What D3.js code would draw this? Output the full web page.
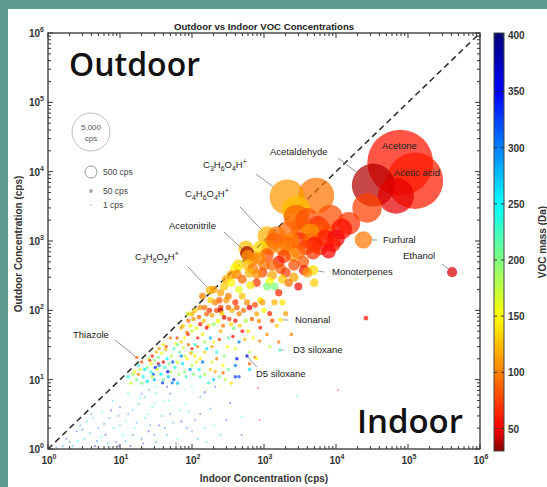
<!DOCTYPE html>
<html>
<head>
<meta charset="utf-8">
<script src="https://cdn.jsdelivr.net/npm/d3@7/dist/d3.min.js"></script>
<style>
  body { margin: 0; background: #5e9c92; }
  svg { display: block; }
  text { font-family: "Liberation Sans", Arial, sans-serif; }
</style>
</head>
<body>
<div id="chart"></div>
<script>
// ---- data: concentrations in cps, mass in Da ----
var decadeTicks = [1, 10, 100, 1000, 10000, 100000, 1000000];
var massTicks = [50, 100, 150, 200, 250, 300, 350, 400];
var legendSizes = [5000, 500, 50, 1];

// labelled compounds: name, indoor, outdoor, mass, bubble size (cps)
var compounds = [
  ["Acetone", 78000, 13500, 58, 15000],
  ["Acetic acid", 125000, 7400, 60, 11000],
  ["Acetaldehyde", 33000, 6400, 38, 6400],
  ["Furfural", 24000, 1040, 97, 1040],
  ["Ethanol", 410000, 355, 44, 355],
  ["C3H6O4H+", 2100, 4300, 110, 4300],
  ["C4H6O4H+", 1100, 1200, 119, 1200],
  ["Acetonitrile", 580, 670, 36, 670],
  ["C3H6O5H+", 178, 196, 123, 260],
  ["Monoterpenes", 4800, 380, 137, 380],
  ["Nonanal", 1700, 73, 142, 73],
  ["D3 siloxane", 1660, 27, 223, 27],
  ["D5 siloxane", 580, 22, 371, 22],
  ["Thiazole", 17, 21, 86, 21]
];

// unlabelled VOCs: [indoor, outdoor, mass]
var bigPoints = [
  [68000,4500,46],[27000,3000,75],[5300,4500,95],
  [280,220,130],[350,320,110],[400,400,145],[500,280,90],[630,350,120],[710,560,100],
  [790,250,70],[890,790,135],[1000,450,95],[1100,630,80],[1300,320,115],[1400,1000,85],
  [1600,500,60],[1800,790,100],[2000,350,75],[2200,1400,90],[2500,630,105],[3200,1000,65],
  [3500,500,85],[4000,2000,80],[5000,890,55],[5600,1600,70],[7100,1100,60],[7900,710,50],
  [2800,2200,88],[560,790,125],[450,200,160],[320,160,100],[250,110,75],[1100,220,200],
  [1600,180,65],[2200,250,95],[890,140,140],[4000,350,110],[5000,250,130],[10000,1100,48],
  [8300,2200,80],[2800,2800,125],[3000,220,55],[4400,1300,110],[2100,880,90],[4800,680,70],
  [440,450,135],
  [600,600,110],[700,400,95],[850,560,105],[950,350,80],[1200,800,100],[1300,450,90],
  [1500,1200,95],[1700,400,85],[1900,600,75],[2400,1000,100],[2600,450,80],[3000,700,90],
  [3300,1500,85],[3800,800,75],[4500,1000,90],[6000,800,65],[6500,1400,80],[9000,900,60],
  [12000,1500,55],[15000,1800,70],[3600,380,60],[2600,300,115],[1800,280,130],[1200,260,150],
  [800,330,105],[650,230,140],[600,450,125],[350,250,145],[300,280,120],[420,330,100]
];
var midPoints = [
  [71,56,110],[79,40,150],[89,71,95],[100,50,170],[100,89,120],[110,32,230],[130,63,60],
  [130,110,105],[140,45,140],[160,89,85],[160,28,260],[180,140,130],[200,63,190],[200,35,155],
  [220,100,75],[250,50,120],[250,180,115],[280,79,45],[320,40,210],[320,110,90],[350,63,135],
  [400,130,70],[400,28,165],[450,89,100],[500,50,55],[500,160,125],[560,71,180],[630,110,48],
  [710,40,145],[790,89,115],[890,56,62],[1000,100,150],[1100,45,105],[1300,71,78],[1400,130,120],
  [1600,35,95],[220,25,240],[280,22,200],[140,160,100],[200,200,110],[110,100,130],[89,89,160],
  [450,35,300],[630,25,180],[790,20,150],[180,40,280],[100,25,190],[63,32,210],[79,22,175],
  [130,20,145],[250,100,40],[160,56,50],[400,71,58],[1400,220,200],[1800,130,140],
  [75,60,130],[85,48,100],[95,60,145],[105,75,110],[115,55,160],[125,80,90],[145,70,125],
  [150,110,95],[170,60,140],[175,100,70],[190,85,115],[210,130,100],[230,70,150],[240,140,85],
  [260,90,130],[270,60,95],[300,140,110],[330,75,75],[360,100,120],[380,55,200],[420,110,85],
  [460,60,130],[520,100,95],[580,130,105],[600,50,140],[680,75,90],[750,120,80],[850,70,100],
  [950,130,110],[1200,90,65],[1500,60,130],[2000,90,110],[120,40,60],[150,35,190],[190,30,110],
  [240,38,70],[310,30,150],[370,42,50],[540,38,120],[1200,30,180],[2400,45,100]
];
var lowPoints = [
  [16,13,150],[18,16,230],[20,8.9,200],[22,14,260],[25,20,180],[25,7.1,300],[28,11,170],
  [32,25,120],[32,7.9,240],[35,16,290],[40,10,210],[40,32,140],[45,20,250],[50,6.3,320],
  [50,13,190],[56,28,220],[63,18,160],[63,8.9,270],[71,22,300],[79,13,200],[89,32,90],
  [100,16,180],[100,7.9,250],[110,22,140],[130,11,220],[140,18,310],[160,7.1,190],[180,14,130],
  [200,10,270],[220,20,100],[250,7.9,160],[320,14,210],[350,8.9,140],[20,18,80],[28,22,60],
  [35,28,110],[45,7.9,350],[56,10,330],[22,5.6,280],[14,8.9,170],[13,11,240],[79,7.1,230],
  [130,5.6,290],[100,28,60],[71,35,130],[50,40,100],[40,18,45],[400,16,300],
  [15,12,190],[17,10,210],[19,14,170],[21,11,240],[24,15,200],[24,9.5,260],[27,17,150],
  [27,13,230],[30,19,190],[30,10,280],[33,14,170],[34,21,210],[37,12,250],[38,24,160],
  [42,15,230],[43,27,120],[47,11,270],[48,17,200],[52,22,180],[53,9,300],[58,15,240],
  [60,33,150],[66,12,190],[67,25,210],[74,17,260],[76,29,170],[83,11,220],[85,20,150],
  [94,14,290],[96,24,120],[105,12,200],[115,18,160],[120,30,100],[125,14,240],[150,12,180],
  [150,25,130],[170,9,230],[190,18,170],[210,13,120],[240,11,200],[270,16,150],[290,10,180],
  [18,12,100],[26,19,70],[34,17,50],[44,30,80],[62,40,75],[88,45,65],[31,15,340],[39,9,330],
  [46,13,360],[54,18,320],[29,12,310]
];
var faintPoints = [
  [2.0,1.26,300],[2.5,1.8,320],[3.2,1.4,280],[3.5,2.5,260],[4.5,1.1,340],[5.0,2.0,300],
  [5.6,3.5,250],[6.3,1.6,360],[7.1,2.8,290],[7.9,5.0,270],[8.9,1.26,310],[10,2.2,280],
  [10,4.0,330],[11,1.6,260],[13,3.2,300],[14,1.1,350],[16,2.0,240],[18,4.5,290],[20,1.4,320],
  [22,2.8,270],[25,1.8,380],[28,4.0,250],[32,1.26,300],[35,2.2,340],[40,5.0,230],[45,1.6,290],
  [50,3.2,310],[63,1.4,260],[71,2.5,350],[79,4.5,220],[100,1.8,300],[130,3.2,330],[160,1.26,270],
  [200,2.2,240],[4.0,3.2,310],[13,6.3,260],[20,6.3,320],[32,6.3,280],[1.6,1.1,290],[2.8,2.2,300],
  [1.3,1.05,300],[1.8,1.4,330],[2.2,1.1,280],[2.6,1.3,260],[3.0,1.9,310],[3.8,1.7,290],
  [4.2,2.8,270],[4.8,1.3,320],[5.5,1.5,250],[6.0,2.3,300],[6.8,1.2,280],[7.5,3.6,330],
  [8.2,2.0,260],[9.5,3.0,300],[9.5,1.1,350],[12,2.5,240],[12,1.3,300],[15,3.6,270],
  [15,1.6,320],[17,2.4,290],[19,5.5,250],[21,1.2,340],[24,3.2,260],[26,2.2,300],[30,4.5,230],
  [30,1.6,310],[38,3.0,280],[42,2.0,320],[48,5.0,260],[55,2.4,290],[60,1.2,330],[68,3.6,240],
  [85,2.0,300],[90,3.5,270],[110,2.6,320],[120,1.4,290],[150,2.0,260],[180,3.8,300],
  [250,1.6,280],[300,2.6,320]
];
var sparsePoints = [
  [420,20,350],[400,11,330],[450,11,320],[830,7.6,60],[270,12.6,90],[210,7.9,340],[150,6.6,360],
  [2900,5.8,250],[10700,7.1,55],[870,2.6,60],[490,2.9,260],[490,1.6,330],[630,17,85],[750,21,95],
  [870,36,100],[630,14,260],[340,4.6,350],[26000,77,58]
];

// ---- layout ----
var width = 547, height = 487;
var plotL = 48, plotR = 480, plotT = 33, plotB = 449;

// where each compound name is written, and where its leader line starts
var labelLayout = {
  "Acetone":      {x: 382, y: 149},
  "Acetic acid":  {x: 394, y: 176},
  "Acetaldehyde": {x: 270, y: 155, lx: 338, ly: 158},
  "C3H6O4H+":     {x: 203, y: 168, lx: 256, ly: 174},
  "C4H6O4H+":     {x: 185, y: 197, lx: 240, ly: 207},
  "Acetonitrile": {x: 169, y: 229, lx: 224, ly: 232},
  "C3H6O5H+":     {x: 135, y: 260, lx: 188, ly: 267},
  "Thiazole":     {x: 73,  y: 338, lx: 115, ly: 340},
  "Furfural":     {x: 383, y: 243, lx: 377, ly: 240},
  "Ethanol":      {x: 403, y: 259, lx: 442, ly: 264},
  "Monoterpenes": {x: 332, y: 275, lx: 324, ly: 272},
  "Nonanal":      {x: 295, y: 323, lx: 288, ly: 320},
  "D3 siloxane":  {x: 293, y: 353, lx: 284, ly: 350},
  "D5 siloxane":  {x: 256, y: 377, lx: 257, ly: 367}
};

var svg = d3.select("#chart").append("svg").attr("width", width).attr("height", height);
svg.append("rect").attr("width", width).attr("height", height).attr("fill", "#5e9c92");
svg.append("rect").attr("x", 8).attr("y", 9).attr("width", width - 8).attr("height", height - 9).attr("fill", "#fff");

var x = d3.scaleLog().domain([1, 1e6]).range([plotL, plotR]);
var y = d3.scaleLog().domain([1, 1e6]).range([plotB, plotT]);
var r = d3.scaleSqrt().domain([0, 5000]).range([0, 19]);
// reversed jet
var color = d3.scaleLinear()
  .domain([30, 50, 100, 150, 200, 250, 300, 350, 400])
  .range(["#800000", "#ff0000", "#ff8000", "#ffff00", "#80ff80", "#00ffff", "#0080ff", "#0000ff", "#00007f"])
  .clamp(true);
// tiny markers still get a visible dot
function radius(v) { return Math.max(v >= 8 ? 1.7 : 1.1, r(v)); }

// ---- points ----
var points = [];
compounds.forEach(function(c) {
  points.push({name: c[0], indoor: c[1], outdoor: c[2], mass: c[3], size: c[4]});
});
[bigPoints, midPoints, lowPoints, faintPoints, sparsePoints].forEach(function(g) {
  g.forEach(function(p) {
    points.push({indoor: p[0], outdoor: p[1], mass: p[2], size: p[1]});
  });
});
points.sort(function(a, b) { return b.size - a.size; });

svg.append("clipPath").attr("id", "plotclip").append("rect")
  .attr("x", plotL).attr("y", plotT).attr("width", plotR - plotL).attr("height", plotB - plotT);

var dots = svg.append("g").attr("clip-path", "url(#plotclip)");

// 1:1 line
dots.append("line")
  .attr("x1", x(1)).attr("y1", y(1)).attr("x2", x(1e6)).attr("y2", y(1e6))
  .attr("stroke", "#333").attr("stroke-width", 1.6).attr("stroke-dasharray", "6,4");

dots.selectAll("circle").data(points).enter().append("circle")
  .attr("cx", function(d) { return x(d.indoor); })
  .attr("cy", function(d) { return y(d.outdoor); })
  .attr("r", function(d) { return radius(d.size); })
  .attr("fill", function(d) { return color(d.mass); })
  .attr("fill-opacity", function(d) { return d.size < 8 ? 0.4 : 0.72; });

// ---- axes (ticks inward on all four sides) ----
var allTicks = x.ticks();
function isMajor(v) { var l = Math.log10(v); return Math.abs(l - Math.round(l)) < 1e-6; }

var tk = svg.append("g").attr("stroke", "#333").attr("stroke-width", 1);
allTicks.forEach(function(v) {
  var len = isMajor(v) ? 5 : 3;
  tk.append("line").attr("x1", x(v)).attr("x2", x(v)).attr("y1", plotB).attr("y2", plotB - len);
  tk.append("line").attr("x1", x(v)).attr("x2", x(v)).attr("y1", plotT).attr("y2", plotT + len);
  tk.append("line").attr("y1", y(v)).attr("y2", y(v)).attr("x1", plotL).attr("x2", plotL + len);
  tk.append("line").attr("y1", y(v)).attr("y2", y(v)).attr("x1", plotR).attr("x2", plotR - len);
});
svg.append("rect").attr("x", plotL).attr("y", plotT).attr("width", plotR - plotL).attr("height", plotB - plotT)
  .attr("fill", "none").attr("stroke", "#333").attr("stroke-width", 1.3);

function powLabel(sel, v) {
  sel.append("tspan").text("10");
  sel.append("tspan").attr("dy", -5).attr("font-size", 7).text(Math.round(Math.log10(v)));
}
decadeTicks.forEach(function(v) {
  svg.append("text").attr("x", x(v) + 1).attr("y", 464).attr("text-anchor", "middle")
    .attr("font-size", 10).attr("font-weight", "bold").attr("fill", "#333")
    .call(powLabel, v);
  svg.append("text").attr("x", 44).attr("y", y(v) + 4).attr("text-anchor", "end")
    .attr("font-size", 10).attr("font-weight", "bold").attr("fill", "#333")
    .call(powLabel, v);
});

svg.append("text").attr("x", 264).attr("y", 30).attr("text-anchor", "middle")
  .attr("font-size", 9.6).attr("font-weight", "bold").attr("fill", "#222")
  .text("Outdoor vs Indoor VOC Concentrations");
svg.append("text").attr("x", 264).attr("y", 482).attr("text-anchor", "middle")
  .attr("font-size", 10).attr("font-weight", "bold").attr("fill", "#333")
  .text("Indoor Concentration (cps)");
svg.append("text").attr("transform", "translate(22,244) rotate(-90)").attr("text-anchor", "middle")
  .attr("font-size", 10).attr("font-weight", "bold").attr("fill", "#333")
  .text("Outdoor Concentration (cps)");

svg.append("text").attr("x", 69).attr("y", 76)
  .style("font-family", "'Open Sans', sans-serif").attr("font-size", 32).attr("font-weight", 600)
  .attr("fill", "#111").text("Outdoor");
svg.append("text").attr("x", 463).attr("y", 433).attr("text-anchor", "end")
  .style("font-family", "'Open Sans', sans-serif").attr("font-size", 33).attr("font-weight", 600)
  .attr("fill", "#111").text("Indoor");

// ---- size legend ----
var legY = [132, 172, 191, 205];
legendSizes.forEach(function(s, i) {
  var c = svg.append("circle").attr("cx", 91).attr("cy", legY[i]).attr("r", Math.max(0.8, r(s)));
  if (i < 2) c.attr("fill", "#fff").attr("stroke", i == 0 ? "#bbb" : "#999").attr("stroke-width", 1);
  else c.attr("fill", "#aaa");
  if (i == 0) {
    svg.append("text").attr("x", 91).attr("y", 130).attr("text-anchor", "middle")
      .attr("font-size", 8).attr("fill", "#555").text("5,000");
    svg.append("text").attr("x", 91).attr("y", 141).attr("text-anchor", "middle")
      .attr("font-size", 8).attr("fill", "#555").text("cps");
  } else {
    svg.append("text").attr("x", 103).attr("y", legY[i] + 3)
      .attr("font-size", 8.5).attr("fill", "#444").text(d3.format(",")(s) + " cps");
  }
});

// ---- compound labels ----
var byName = {};
points.forEach(function(p) { if (p.name) byName[p.name] = p; });

function formulaText(sel, name) {
  if (!/^C\d/.test(name)) { sel.text(name); return; }
  var shift = 0;
  name.split("").forEach(function(ch) {
    var target = 0, fs = null;
    if (/\d/.test(ch)) { target = 2.5; fs = 7; }
    else if (ch == "+") { target = -4; fs = 7; }
    var t = sel.append("tspan").attr("dy", target - shift).text(ch);
    if (fs) t.attr("font-size", fs);
    shift = target;
  });
}

var ann = svg.append("g");
compounds.forEach(function(c) {
  var p = byName[c[0]], lay = labelLayout[c[0]];
  if (lay.lx !== undefined) {
    var px = x(p.indoor), py = y(p.outdoor), pr = radius(p.size);
    var dx = lay.lx - px, dy = lay.ly - py, dist = Math.sqrt(dx * dx + dy * dy);
    if (dist > pr) {
      ann.append("line").attr("x1", lay.lx).attr("y1", lay.ly)
        .attr("x2", px + dx / dist * pr).attr("y2", py + dy / dist * pr)
        .attr("stroke", "#888").attr("stroke-width", 0.9);
    }
  }
  ann.append("text").attr("x", lay.x).attr("y", lay.y)
    .attr("font-size", 9.5).attr("fill", "#222")
    .call(formulaText, c[0]);
});

// ---- colorbar ----
var cb = d3.scaleLinear().domain([30, 402]).range([451, 33]);
var defs = svg.append("defs");
var grad = defs.append("linearGradient").attr("id", "jet")
  .attr("x1", 0).attr("y1", 0).attr("x2", 0).attr("y2", 1);
// stops must run top (high mass) to bottom
d3.range(402, 29, -4).forEach(function(v) {
  grad.append("stop").attr("offset", (cb(v) - 33) / (451 - 33)).attr("stop-color", color(v));
});
svg.append("rect").attr("x", 494).attr("y", 33).attr("width", 10).attr("height", 451 - 33)
  .attr("fill", "url(#jet)").attr("stroke", "#444").attr("stroke-width", 1);
massTicks.forEach(function(v) {
  svg.append("line").attr("x1", 494).attr("x2", 497).attr("y1", cb(v)).attr("y2", cb(v)).attr("stroke", "#333");
  svg.append("line").attr("x1", 504).attr("x2", 501).attr("y1", cb(v)).attr("y2", cb(v)).attr("stroke", "#333");
  svg.append("text").attr("x", 508).attr("y", cb(v) + 4)
    .attr("font-size", 10).attr("font-weight", "bold").attr("fill", "#333").text(v);
});
svg.append("text").attr("transform", "translate(546,242) rotate(-90)").attr("text-anchor", "middle")
  .attr("font-size", 10).attr("font-weight", "bold").attr("fill", "#333").text("VOC mass (Da)");
</script>
</body>
</html>
